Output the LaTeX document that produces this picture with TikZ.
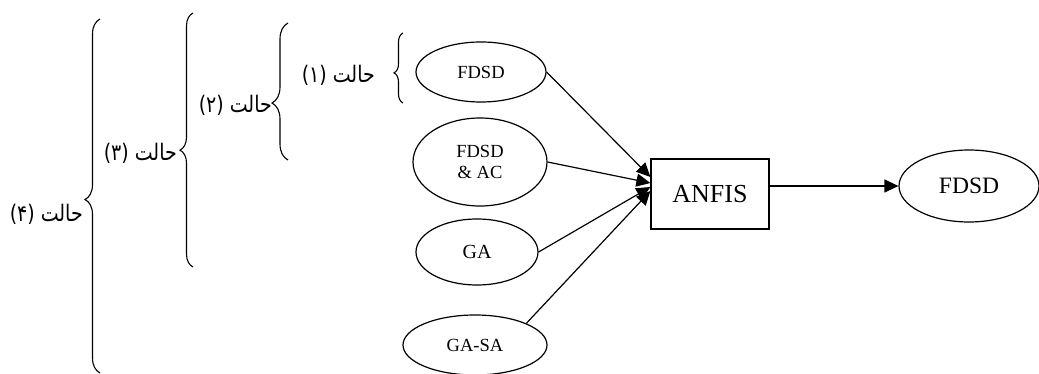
\documentclass[tikz,border=0pt]{standalone}
\usepackage{fontspec}
\setmainfont{Liberation Serif}
\newfontfamily\arabicfont[Script=Arabic]{DejaVu Sans}
\TeXXeTstate=1
\usetikzlibrary{arrows.meta,shapes.geometric,decorations.pathreplacing,calc}
\newcommand{\fatext}[1]{\scalebox{1}[1.2]{\arabicfont\fontsize{19}{22}\selectfont\beginR #1\endR}}
\begin{document}
\begin{tikzpicture}[x=1pt,y=-1pt,
  oval/.style={draw,ellipse,line width=1.2pt,inner sep=0pt,font=\fontsize{18.5}{21}\selectfont,align=center},
  box/.style={draw,rectangle,line width=1.2pt,inner sep=0pt,minimum width=118pt,minimum height=70pt,font=\fontsize{26}{30}\selectfont},
  conn/.style={line width=1.2pt,-{Triangle[length=14pt,width=13pt]}},
  bracestyle/.style n args={2}{decorate,decoration={brace,amplitude=#1,aspect=#2},line width=1.1pt},
  lab/.style={anchor=east,inner sep=0pt}]
\useasboundingbox (0,0) rectangle (1039,374);

\node[oval,minimum width=130pt,minimum height=60pt] (e1) at (481,72) {FDSD};
\node[oval,minimum width=134pt,minimum height=88pt] (e2) at (480,162) {FDSD\\\& AC};
\node[oval,minimum width=122pt,minimum height=66pt,font=\fontsize{20}{24}\selectfont] (e3) at (477,252) {GA};
\node[oval,minimum width=144pt,minimum height=60pt] (e4) at (475,345) {GA-SA};
\node[box] (anfis) at (710,194) {ANFIS};
\node[oval,minimum width=140pt,minimum height=72pt,font=\fontsize{23.5}{28}\selectfont] (out) at (969,186) {FDSD};

\coordinate (t1) at ($(anfis.west)+(0,-17)$);
\coordinate (t2) at ($(anfis.west)+(0,-11)$);
\coordinate (t3) at ($(anfis.west)+(0,-7)$);
\coordinate (t4) at ($(anfis.west)+(0,-3)$);

\draw[conn] (e1.east) -- (t1);
\draw[conn] (e2.east) -- (t2);
\draw[conn] (e3.east) -- (t3);
\draw[conn] (e4.north east) -- (t4);
\draw[conn] (anfis.east |- out.west) -- (out.west);

\coordinate (b1b) at (403,103); \coordinate (b1t) at (403,33);
\coordinate (b2b) at (288,160); \coordinate (b2t) at (288,23);
\coordinate (b3b) at (193,267); \coordinate (b3t) at (193,13);
\coordinate (b4b) at (100,373); \coordinate (b4t) at (100,19);
\draw[bracestyle={9pt}{0.43}] (b1b) -- (b1t);
\draw[bracestyle={16pt}{0.416}] (b2b) -- (b2t);
\draw[bracestyle={13pt}{0.46}] (b3b) -- (b3t);
\draw[bracestyle={15pt}{0.49}] (b4b) -- (b4t);

\node[lab] (l1) at (375,75) {\fatext{حالت (۱)}};
\node[lab] (l2) at (272,105) {\fatext{حالت (۲)}};
\node[lab] (l3) at (177,153) {\fatext{حالت (۳)}};
\node[lab] (l4) at (83,214) {\fatext{حالت (۴)}};
\end{tikzpicture}
\end{document}
